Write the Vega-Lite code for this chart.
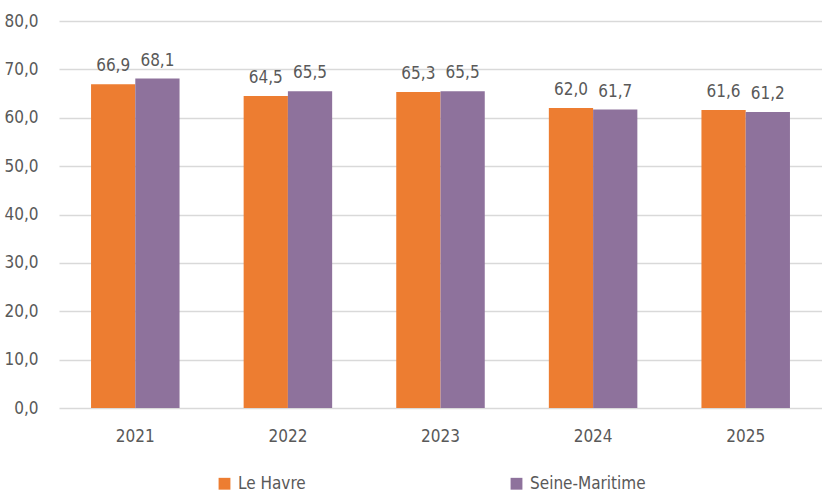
{
  "$schema": "https://vega.github.io/schema/vega-lite/v6.json",
  "autosize": "none",
  "width": 763,
  "height": 387,
  "padding": {"left": 59, "top": 21, "right": 0, "bottom": 84},
  "background": "white",
  "config": {
    "view": {"stroke": null},
    "font": "DejaVu Sans Condensed",
    "locale": {"number": {"decimal": ",", "thousands": " ", "grouping": [3], "currency": ["", " €"]}}
  },
  "data": {
    "values": [
      {"annee": "2021", "zone": "Le Havre", "valeur": 66.9},
      {"annee": "2021", "zone": "Seine-Maritime", "valeur": 68.1},
      {"annee": "2022", "zone": "Le Havre", "valeur": 64.5},
      {"annee": "2022", "zone": "Seine-Maritime", "valeur": 65.5},
      {"annee": "2023", "zone": "Le Havre", "valeur": 65.3},
      {"annee": "2023", "zone": "Seine-Maritime", "valeur": 65.5},
      {"annee": "2024", "zone": "Le Havre", "valeur": 62.0},
      {"annee": "2024", "zone": "Seine-Maritime", "valeur": 61.7},
      {"annee": "2025", "zone": "Le Havre", "valeur": 61.6},
      {"annee": "2025", "zone": "Seine-Maritime", "valeur": 61.2}
    ]
  },
  "encoding": {
    "x": {
      "field": "annee", "type": "nominal",
      "scale": {"paddingInner": 0.42, "paddingOuter": 0.21},
      "axis": {
        "title": null, "labelAngle": 0, "ticks": false, "domain": false,
        "labelFont": "DejaVu Sans Condensed", "labelFontSize": 17, "labelColor": "#595959",
        "labelPadding": 20
      }
    },
    "xOffset": {"field": "zone", "type": "nominal", "scale": {"paddingInner": 0, "paddingOuter": 0}},
    "y": {
      "field": "valeur", "type": "quantitative",
      "scale": {"domain": [0, 80], "nice": false},
      "axis": {
        "title": null, "values": [0, 10, 20, 30, 40, 50, 60, 70, 80],
        "format": ".1f",
        "ticks": false, "domain": false,
        "grid": true, "gridColor": "#d9d9d9", "gridWidth": 1.5,
        "labelFont": "DejaVu Sans Condensed", "labelFontSize": 17, "labelColor": "#595959",
        "labelPadding": 21
      }
    }
  },
  "layer": [
    {
      "mark": {"type": "bar"},
      "encoding": {
        "color": {
          "field": "zone", "type": "nominal",
          "scale": {"domain": ["Le Havre", "Seine-Maritime"], "range": ["#ED7D31", "#8E729C"]},
          "legend": {
            "title": null, "orient": "none", "direction": "horizontal", "columns": 2,
            "legendX": 157, "legendY": 454,
            "symbolType": "square", "symbolSize": 140, "symbolOpacity": 1,
            "labelFont": "DejaVu Sans Condensed", "labelFontSize": 17, "labelColor": "#595959",
            "labelOffset": 5, "columnPadding": 202
          }
        }
      }
    },
    {
      "mark": {"type": "text", "dy": -9, "baseline": "bottom", "font": "DejaVu Sans Condensed", "fontSize": 17, "color": "#595959"},
      "encoding": {
        "text": {"field": "valeur", "type": "quantitative", "format": ".1f"},
        "detail": {"field": "zone"}
      }
    }
  ]
}
